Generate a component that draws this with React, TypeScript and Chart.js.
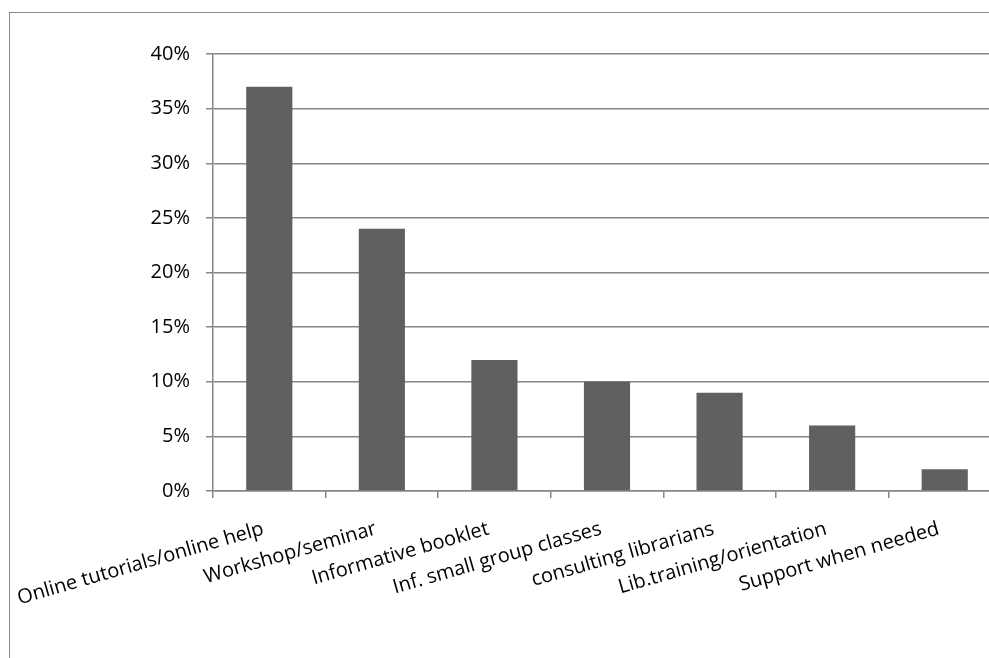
import React, { useEffect, useRef } from "react";
import { Chart, registerables } from "chart.js";

Chart.register(...registerables);

const categories = [
  "Online tutorials/online help",
  "Workshop/seminar",
  "Informative booklet",
  "Inf. small group classes",
  "consulting librarians",
  "Lib.training/orientation",
  "Support when needed",
];
const values = [37, 24, 12, 10, 9, 6, 2];
const yTicks = [0, 5, 10, 15, 20, 25, 30, 35, 40];

const FONT = "'Open Sans', 'Noto Sans', sans-serif";

export default function App() {
  const ref = useRef<HTMLCanvasElement | null>(null);
  useEffect(() => {
    if (!ref.current) return;
    const chart = new Chart(ref.current, {
      type: "bar",
      data: {
        labels: categories,
        datasets: [
          {
            data: values,
            backgroundColor: "#606060",
            borderWidth: 0,
            barPercentage: 0.41,
            categoryPercentage: 1,
          },
        ],
      },
      options: {
        responsive: false,
        animation: false,
        devicePixelRatio: 1,
        layout: { padding: { left: 0, top: 54, right: 9, bottom: 0 } },
        plugins: { legend: { display: false }, tooltip: { enabled: false } },
        scales: {
          x: {
            grid: {
              drawOnChartArea: false,
              drawTicks: true,
              tickLength: 7,
              color: "#868686",
              lineWidth: 1.5,
            },
            border: { color: "#868686", width: 1.5 },
            ticks: {
              autoSkip: false,
              minRotation: 16,
              maxRotation: 16,
              padding: 19,
              labelOffset: -6,
              color: "#000",
              font: { family: FONT, size: 20 },
            },
            afterFit: (s: any) => {
              s.height = 167;
              s.paddingLeft = 0;
              s.paddingRight = 0;
            },
          },
          y: {
            min: 0,
            max: 40,
            afterBuildTicks: (s: any) => {
              s.ticks = yTicks.map((v) => ({ value: v }));
            },
            grid: {
              color: "#868686",
              lineWidth: 1.5,
              tickLength: 7,
            },
            border: { color: "#868686", width: 1.5 },
            ticks: {
              padding: 16,
              color: "#000",
              font: { family: FONT, size: 20 },
              callback: (v: any) => v + "%",
            },
            afterFit: (s: any) => {
              s.width = 213;
            },
          },
        },
      },
    });
    return () => chart.destroy();
  }, []);
  return (
    <div
      style={{
        position: "fixed",
        left: 0,
        top: 0,
        width: 989,
        height: 658,
        overflow: "hidden",
        background: "#fff",
      }}
    >
      <div
        style={{
          position: "absolute",
          left: 9,
          top: 12,
          width: 1200,
          height: 900,
          border: "1px solid #8c8c8c",
        }}
      />
      <canvas
        ref={ref}
        width={1010}
        height={658}
        style={{ position: "absolute", left: 0, top: 0, width: 1010, height: 658 }}
      />
    </div>
  );
}
